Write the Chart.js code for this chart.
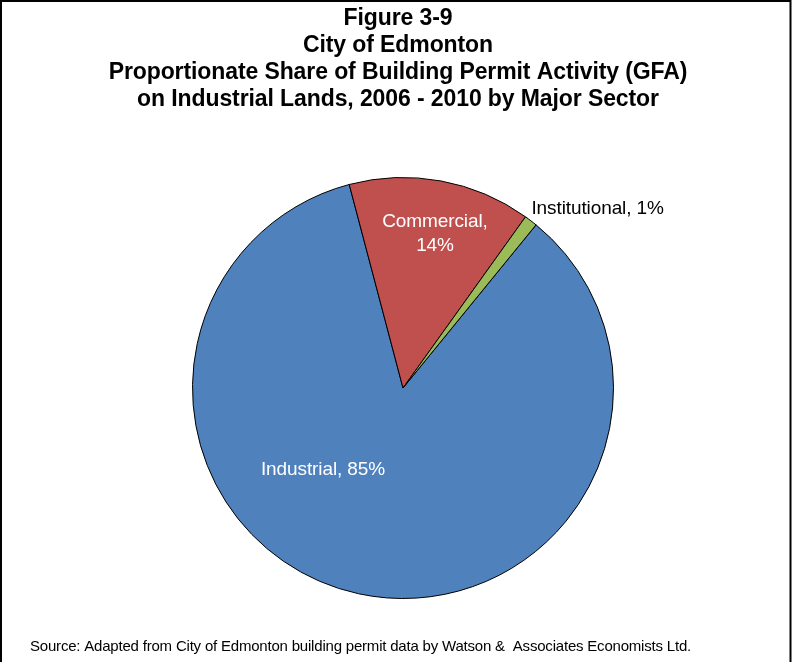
<!DOCTYPE html>
<html>
<head>
<meta charset="utf-8">
<script src="https://cdn.jsdelivr.net/npm/chart.js@4"></script>
<style>
  html, body { margin: 0; padding: 0; background: #fff; }
  #wrap { position: relative; width: 792px; height: 662px; }
</style>
</head>
<body>
<div id="wrap"><canvas id="pie"></canvas></div>
<script>
// Building permit GFA share by sector, 2006-2010
const sectors = ['Industrial', 'Commercial', 'Institutional'];
const shares = [85, 14, 1];
const sliceColors = ['#4F81BD', '#C0504D', '#9BBB59'];
const titleLines = [
    'Figure 3-9',
    'City of Edmonton',
    'Proportionate Share of Building Permit Activity (GFA)',
    'on Industrial Lands, 2006 - 2010 by Major Sector',
];
const sourceNote = 'Source: Adapted from City of Edmonton building permit data by Watson &  Associates Economists Ltd.';

const FONT = '"Liberation Sans", Arial, sans-serif';

// Frame, title block and source line
const frameAndText = {
    id: 'frameAndText',
    beforeDraw(chart) {
        const { ctx, width, height } = chart;
        ctx.save();
        ctx.fillStyle = '#fff';
        ctx.fillRect(0, 0, width, height);
        ctx.restore();
    },
    afterDraw(chart) {
        const { ctx, width, height } = chart;
        ctx.save();
        ctx.strokeStyle = '#000';
        ctx.lineWidth = 2;
        ctx.strokeRect(1, 1, width - 2.5, height + 10);

        ctx.fillStyle = '#000';
        ctx.textAlign = 'center';
        ctx.textBaseline = 'middle';
        ctx.font = `bold 23px ${FONT}`;
        ctx.letterSpacing = '-0.1px';
        titleLines.forEach((line, i) => {
            ctx.fillText(line, 398, 19 + i * 27);
        });

        ctx.font = `15px ${FONT}`;
        ctx.letterSpacing = '-0.2px';
        ctx.textAlign = 'left';
        ctx.fillText(sourceNote, 30, 647);
        ctx.restore();
    },
};

// Where each slice's label sits, as a fraction of the radius from the centre
const labelOffsets = [[-0.38, 0.39], [0.152, -0.733], [0.61, -0.85]];

const sliceLabels = {
    id: 'sliceLabels',
    afterDatasetsDraw(chart) {
        const { ctx } = chart;
        const meta = chart.getDatasetMeta(0);
        ctx.save();
        ctx.font = `19px ${FONT}`;
        ctx.letterSpacing = '-0.1px';
        ctx.textBaseline = 'middle';
        meta.data.forEach((arc, i) => {
            const { x, y, outerRadius } = arc.getProps(['x', 'y', 'outerRadius'], true);
            const lx = x + labelOffsets[i][0] * outerRadius;
            const ly = y + labelOffsets[i][1] * outerRadius;
            const text = `${sectors[i]}, ${shares[i]}%`;
            if (i === 0) {
                ctx.fillStyle = '#fff';
                ctx.textAlign = 'center';
                ctx.fillText(text, lx, ly);
            } else if (i === 1) {
                ctx.fillStyle = '#fff';
                ctx.textAlign = 'center';
                ctx.fillText(`${sectors[i]},`, lx, ly - 12);
                ctx.fillText(`${shares[i]}%`, lx, ly + 12);
            } else {
                ctx.fillStyle = '#000';
                ctx.textAlign = 'left';
                ctx.fillText(text, lx, ly);
            }
        });
        ctx.restore();
    },
};

new Chart(document.getElementById('pie'), {
    type: 'pie',
    data: {
        labels: sectors,
        datasets: [{
            data: shares,
            backgroundColor: sliceColors,
            borderColor: '#000',
            borderWidth: 1,
        }],
    },
    options: {
        responsive: true,
        maintainAspectRatio: false,
        animation: false,
        rotation: 39.2,
        layout: {
            padding: { left: 192, right: 178, top: 177, bottom: 63 },
        },
        plugins: {
            legend: { display: false },
            title: { display: false },
            tooltip: { enabled: false },
        },
    },
    plugins: [frameAndText, sliceLabels],
});
</script>
</body>
</html>
